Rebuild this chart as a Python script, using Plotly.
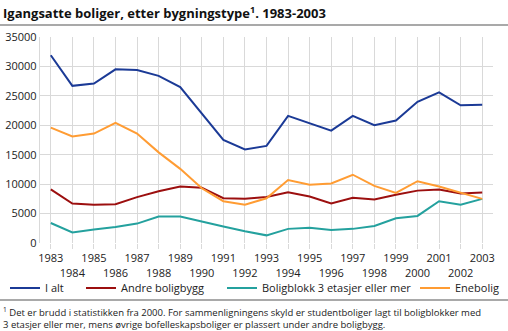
import plotly.graph_objects as go

years = list(range(1983, 2004))

i_alt = [31900, 26700, 27100, 29500, 29400, 28400, 26500, 22000, 17500, 15900,
         16500, 21600, 20400, 19100, 21600, 20000, 20800, 24000, 25600, 23400, 23500]
andre_boligbygg = [9100, 6700, 6500, 6600, 7800, 8800, 9600, 9400, 7600, 7500,
                   7800, 8600, 7900, 6700, 7700, 7400, 8200, 8900, 9100, 8400, 8600]
boligblokk = [3400, 1800, 2300, 2700, 3300, 4500, 4500, 3600, 2800, 2000,
              1300, 2400, 2600, 2200, 2400, 2900, 4200, 4600, 7100, 6500, 7500]
enebolig = [19600, 18100, 18600, 20400, 18600, 15400, 12600, 9300, 7100, 6500,
            7600, 10700, 9900, 10100, 11600, 9700, 8500, 10500, 9600, 8500, 7500]

series = [
    ("I alt", i_alt, "#1b3a96"),
    ("Andre boligbygg", andre_boligbygg, "#9c0f0f"),
    ("Boligblokk 3 etasjer eller mer", boligblokk, "#24a19e"),
    ("Enebolig", enebolig, "#ff9c33"),
]

y_ticks = [0, 5000, 10000, 15000, 20000, 25000, 30000, 35000]
x_ticktext = [str(y) if y % 2 == 1 else "<br>" + str(y) for y in years]

FONT = "Open Sans"
W, H = 508, 331
ML, MR, MT, MB = 40, 15, 37, 88
PW, PH = W - ML - MR, H - MT - MB

# left edge (pixels) of each legend entry's line sample
legend_x = [10, 86, 227, 420]
legend_cy = 288


def px_x(p):
    return (p - ML) / PW


def px_y(p):
    return (H - MB - p) / PH


fig = go.Figure()
legend_layout = {}
for i, (name, vals, color) in enumerate(series):
    key = "legend" if i == 0 else f"legend{i + 1}"
    fig.add_trace(go.Scatter(x=years, y=vals, name=name, mode="lines",
                             line=dict(color=color, width=2), legend=key))
    legend_layout[key] = dict(
        orientation="h", xref="container", yref="container",
        x=(legend_x[i] - 5) / W, y=(H - legend_cy) / H,
        xanchor="left", yanchor="middle",
        font=dict(size=11, family=FONT, color="#222222"),
        bgcolor="rgba(0,0,0,0)", borderwidth=0, itemwidth=30)

fig.update_layout(
    width=W, height=H,
    margin=dict(l=ML, r=MR, t=MT, b=MB, pad=0, autoexpand=False),
    paper_bgcolor="white", plot_bgcolor="white",
    font=dict(family=FONT, size=11, color="#222222"),
    showlegend=True,
    xaxis=dict(range=[1982.5, 2003.5], tickmode="array", tickvals=years,
               ticktext=x_ticktext, tickangle=0, showgrid=True,
               gridcolor="#d9d9d9", gridwidth=1.3, zeroline=False,
               ticks="outside", ticklen=5, tickcolor="#d9d9d9",
               tickfont=dict(size=11, family=FONT), fixedrange=True),
    yaxis=dict(range=[0, 35000], tickmode="array", tickvals=y_ticks,
               ticktext=[str(v) for v in y_ticks], showgrid=True,
               gridcolor="#d9d9d9", gridwidth=1.3, zeroline=False,
               showline=True, linecolor="#d9d9d9", linewidth=1.3,
               ticks="", tickfont=dict(size=11, family=FONT), fixedrange=True),
    **legend_layout,
)

# Title
fig.add_annotation(text="<b>Igangsatte boliger, etter bygningstype<sup>1</sup>. 1983-2003</b>",
                   xref="paper", yref="paper", x=px_x(1), y=px_y(12),
                   xanchor="left", yanchor="middle", showarrow=False,
                   font=dict(size=13, family=FONT, color="#111111"))

# Rules under the title and under the legend
for yy in (25, 300):
    fig.add_shape(type="line", xref="paper", yref="paper",
                  x0=px_x(0), x1=px_x(W), y0=px_y(yy), y1=px_y(yy),
                  line=dict(color="#8c8c8c", width=1.3))

# Footnote
fig.add_annotation(text="<sup>1</sup> Det er brudd i statistikken fra 2000. For sammenligningens skyld er studentboliger lagt til boligblokker med"
                        "<br>3 etasjer eller mer, mens øvrige bofelleskapsboliger er plassert under andre boligbygg.",
                   xref="paper", yref="paper", x=px_x(1), y=px_y(303),
                   xanchor="left", yanchor="top", align="left", showarrow=False,
                   font=dict(size=9.5, family=FONT, color="#222222"))

fig.write_html("out.html", config={"displayModeBar": False})
